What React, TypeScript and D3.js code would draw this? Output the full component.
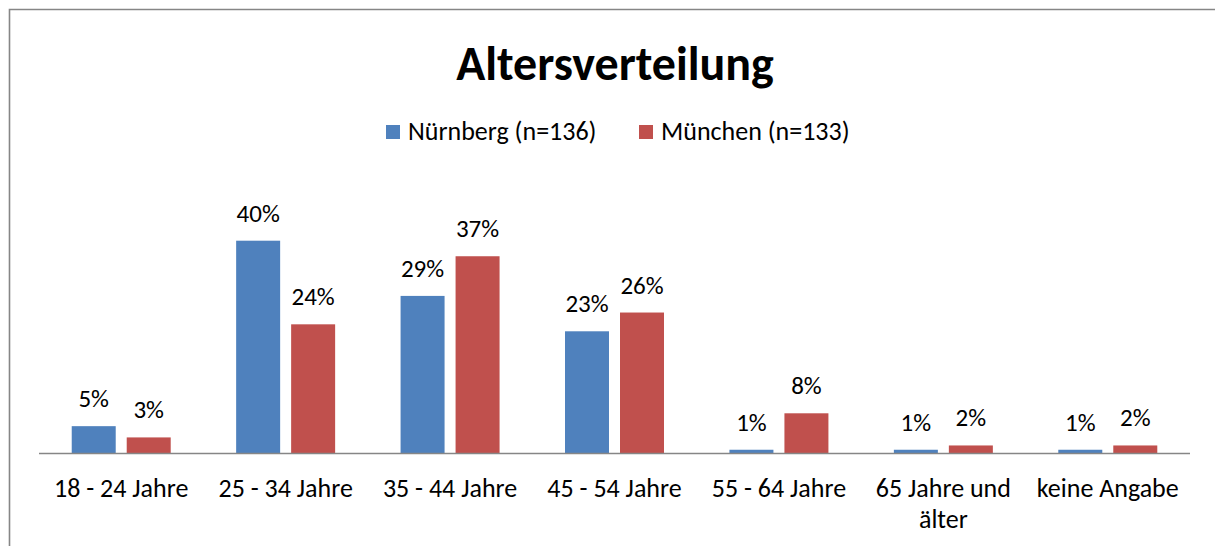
import React from "react";
import { scaleBand, scaleLinear } from "d3";

const categories = [
  ["18 - 24 Jahre"],
  ["25 - 34 Jahre"],
  ["35 - 44 Jahre"],
  ["45 - 54 Jahre"],
  ["55 - 64 Jahre"],
  ["65 Jahre und", "älter"],
  ["keine Angabe"],
];
const seriesNames = ["Nürnberg (n=136)", "München (n=133)"];
// shares in percent, labels show them rounded
const nuernberg = [5.1, 39.7, 29.4, 22.8, 0.7, 0.7, 0.7];
const muenchen = [3.0, 24.1, 36.8, 26.3, 7.5, 1.5, 1.5];
const colors = ["#4F81BD", "#C0504D"];

const width = 1215;
const height = 546;
const font = "Carlito, Lato, 'Open Sans', sans-serif";

export default function App() {
  const x = scaleBand<number>()
    .domain(categories.map((_, i) => i))
    .range([39, 1190]);
  const inner = scaleBand<number>()
    .domain([0, 1])
    .range([0, x.step()])
    .paddingInner(0.2)
    .paddingOuter(0.595);
  const y = scaleLinear().domain([0, 39.7]).range([453.5, 240.7]);
  const series = [nuernberg, muenchen];

  return (
    <svg
      width={width}
      height={height}
      style={{ position: "absolute", left: 0, top: 0, background: "#fff" }}
      fontFamily={font}
    >
      {/* frame, only top and left edges visible */}
      <path d={`M9.5,${height} V9.5 H${width}`} fill="none" stroke="#868686" strokeWidth={1.6} />

      <text x={615} y={80} textAnchor="middle" fontSize={48} fontWeight="bold" fill="#000">
        Altersverteilung
      </text>

      {seriesNames.map((name, s) => {
        const lx = [386, 639][s];
        return (
          <g key={name}>
            <rect x={lx} y={125} width={14} height={14} fill={colors[s]} />
            <text x={lx + 22} y={140} fontSize={26} fill="#000">
              {name}
            </text>
          </g>
        );
      })}

      {series.map((vals, s) =>
        vals.map((v, i) => {
          const bx = (x(i) as number) + (inner(s) as number);
          const bw = inner.bandwidth();
          return (
            <g key={`${s}-${i}`}>
              <rect x={bx} y={y(v)} width={bw} height={y(0) - y(v)} fill={colors[s]} />
              <text x={bx + bw / 2} y={y(v) - 19} textAnchor="middle" fontSize={25} fill="#000">
                {Math.round(v)}%
              </text>
            </g>
          );
        })
      )}

      <line x1={39} x2={1190} y1={453.5} y2={453.5} stroke="#868686" strokeWidth={1.5} />

      {categories.map((lines, i) => (
        <text
          key={i}
          x={(x(i) as number) + x.step() / 2}
          y={497}
          textAnchor="middle"
          fontSize={26}
          fill="#000"
        >
          {lines.map((l, k) => (
            <tspan key={k} x={(x(i) as number) + x.step() / 2} dy={k === 0 ? 0 : 31}>
              {l}
            </tspan>
          ))}
        </text>
      ))}
    </svg>
  );
}
